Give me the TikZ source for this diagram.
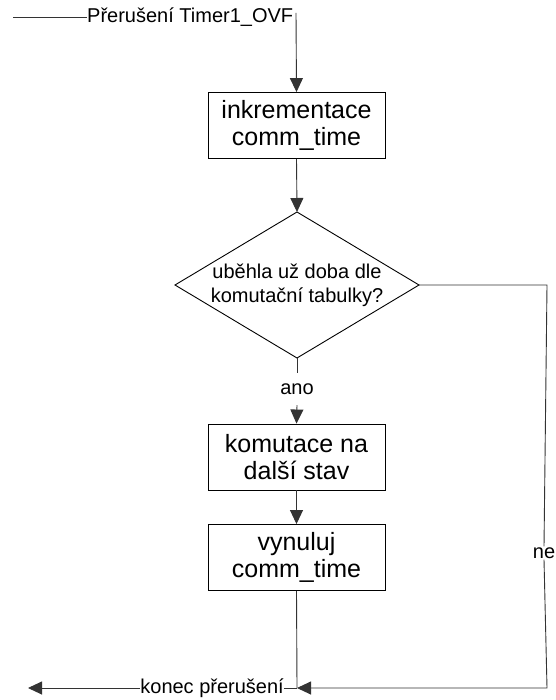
\documentclass[tikz,border=0pt]{standalone}
\usepackage{fontspec}
\setmainfont{Liberation Sans}
\usetikzlibrary{arrows.meta}
\tikzset{
  box/.style={draw=black, line width=0.9pt, minimum width=177pt, minimum height=66pt, inner sep=0pt, align=center, font=\fontsize{25}{27}\selectfont},
  txt/.style={inner sep=0pt, font=\fontsize{20}{24}\selectfont, align=center},
  conn/.style={draw=black!80, line width=0.9pt},
  arr/.style={conn, -{Triangle[length=14pt,width=13pt]}},
}
\begin{document}
\begin{tikzpicture}[x=1pt,y=-1pt]
\useasboundingbox (0,0) rectangle (555,700);
% start
\coordinate (s0) at (13,17);
\node[txt, anchor=west] (start) at (87,17) {Přerušení Timer1\_OVF};
\coordinate (j0) at (296,13);
\draw[conn] (s0) -- (start.west);
% box 1
\node[box] (b1) at (296.5,125.5) {inkrementace\\comm\_time};
\draw[arr] (j0) -- (b1.north);
% decision
\coordinate (dT) at (297,212);
\coordinate (dR) at (419,285);
\coordinate (dB) at (297,358);
\coordinate (dL) at (175,285);
\draw[line width=0.9pt] (dT) -- (dR) -- (dB) -- (dL) -- cycle;
\node[txt] (dec) at (297,285) {uběhla už doba dle\\komutační tabulky?};
\draw[arr] (b1.south) -- (dT);
% ano
\node[txt, minimum height=32pt] (ano) at (297,389) {ano};
\draw[conn] (dB) -- (ano.north);
% box 2
\node[box] (b2) at (296.5,457) {komutace na\\další stav};
\draw[arr] (ano.south) -- (b2.north);
% box 3
\node[box] (b3) at (296.5,557.5) {vynuluj\\comm\_time};
\draw[arr] (b2.south) -- (b3.north);
% bottom
\coordinate (jB) at (297,688);
\coordinate (rT) at (547,285);
\coordinate (rB) at (547,688);
\node[txt, fill=white, inner sep=1pt] (ne) at (544,553) {ne};
\draw[conn] (dR) -- (rT) -- (ne.north);
\draw[arr] (ne.south) -- (rB) -- (jB);
\draw[conn] (b3.south) -- (jB);
\node[txt, anchor=east] (end) at (284,688) {konec přerušení};
\coordinate (e0) at (28,688);
\draw[conn] (jB) -- (end.east);
\draw[arr] (end.west) -- (e0);
\end{tikzpicture}
\end{document}
